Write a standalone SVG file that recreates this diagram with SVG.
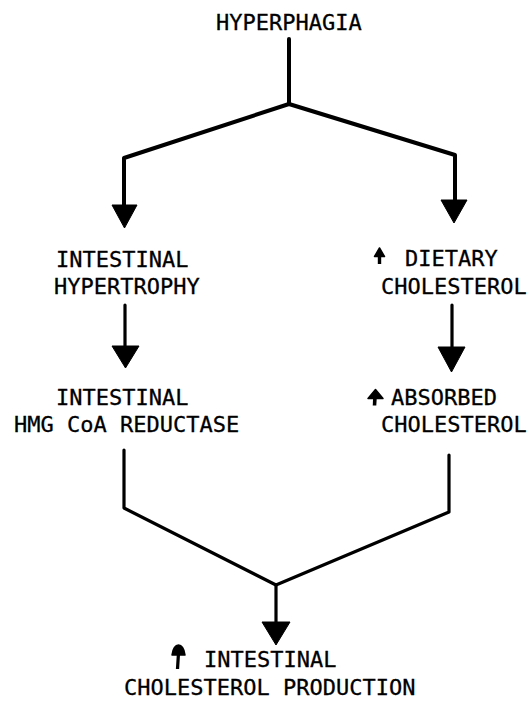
<svg xmlns="http://www.w3.org/2000/svg" width="529" height="701" viewBox="0 0 529 701">
<style>
  .t { font-family: "DejaVu Sans Mono", "Liberation Mono", monospace; font-size: 22px; fill: #000; stroke: #000; stroke-width: 0.3; }
  .ln { fill: none; stroke: #000; stroke-width: 4; stroke-linejoin: round; stroke-linecap: round; }
  .thin { stroke-width: 3.2; }
  .hd { fill: #000; stroke: #000; stroke-width: 1; stroke-linejoin: round; }
  .up { fill: #000; stroke: #000; stroke-linejoin: round; }
</style>
<rect width="529" height="701" fill="#fff"/>

<g id="connectors">
  <path class="ln" d="M289,39 L289,104"/>
  <path class="ln" d="M289,104 L124,158 L124,208"/>
  <path class="ln" d="M289,104 L455,155 L455,203"/>
  <polygon class="hd" points="112,205 137,205 124.5,228"/>
  <polygon class="hd" points="441,200 467,200 454,223"/>

  <path class="ln thin" d="M125,305 L125,350"/>
  <polygon class="hd" points="112,346 139,346 125.5,368"/>
  <path class="ln thin" d="M452,305 L452,350"/>
  <polygon class="hd" points="438,347 465,347 451.5,372"/>

  <path class="ln thin" d="M124,450 L124,508 L276,585"/>
  <path class="ln thin" d="M449,455 L449,512 L276,585"/>
  <path class="ln thin" d="M276,585 L276,625"/>
  <polygon class="hd" points="262,622 290,622 276,645"/>
</g>

<g id="hyperphagia">
  <text class="t" x="216" y="30">HYPERPHAGIA</text>
</g>

<g id="intestinal-hypertrophy">
  <text class="t" x="56" y="267">INTESTINAL</text>
  <text class="t" x="54" y="294">HYPERTROPHY</text>
</g>

<g id="dietary-cholesterol">
  <path class="up" stroke-width="1.5" d="M374.5,256.5 L379.5,248 L384.5,256.5 Z"/>
  <path class="up" stroke-width="3.4" d="M379.5,255 L379.5,264"/>
  <text class="t" x="405" y="266">DIETARY</text>
  <text class="t" x="381" y="294">CHOLESTEROL</text>
</g>

<g id="hmg-coa-reductase">
  <text class="t" x="56" y="405">INTESTINAL</text>
  <text class="t" x="14" y="432">HMG CoA REDUCTASE</text>
</g>

<g id="absorbed-cholesterol">
  <path class="up" stroke-width="1.5" d="M368,398.5 L375.5,389.5 L383,398.5 Z"/>
  <path class="up" stroke-width="3.6" d="M375,397 L374.5,405.5"/>
  <text class="t" x="391" y="405">ABSORBED</text>
  <text class="t" x="381" y="432">CHOLESTEROL</text>
</g>

<g id="intestinal-cholesterol-production">
  <path class="up" stroke-width="1.5" d="M172,655 Q173.5,645 178.5,645 Q183.5,645 185,655 Z"/>
  <path class="up" stroke-width="3.2" d="M178.5,653 L177.5,669"/>
  <text class="t" x="204" y="667">INTESTINAL</text>
  <text class="t" x="124" y="695">CHOLESTEROL PRODUCTION</text>
</g>
</svg>
